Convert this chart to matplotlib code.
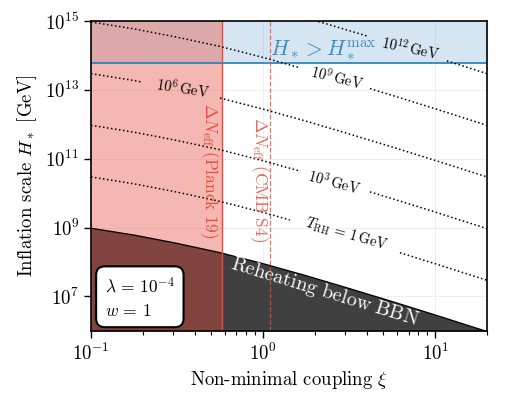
import numpy as np
import matplotlib
matplotlib.use("Agg")
import matplotlib.pyplot as plt

plt.rcParams['font.family'] = 'serif'
plt.rcParams['font.serif'] = ['cmr10', 'DejaVu Serif']
plt.rcParams['mathtext.fontset'] = 'cm'
plt.rcParams['axes.formatter.use_mathtext'] = True

# --- data ---
xi_pts = [0.1, 0.178, 0.316, 0.562, 1.0, 1.78, 3.16, 5.62, 10.0, 20.0]
# log10 H of the BBN reheating boundary at xi_pts
bbn_logH = [8.98, 8.78, 8.54, 8.27, 7.95, 7.60, 7.23, 6.85, 6.46, 5.98]
# constant-T_RH curves: decades above the BBN boundary
trh_names = ['1', '3', '6', '9', '12']
trh_offsets = [1.49, 2.99, 4.49, 5.99, 7.49]
# xi range where each dotted curve is interrupted by its label
trh_gaps = [(1.43, 6.24), (1.60, 4.18), (0.195, 0.562), (1.60, 4.18), (4.02, 11.7)]

xi_planck = 0.577
xi_cmbs4 = 1.10
H_max = 6.2e13
xlim = (0.1, 20)
ylim = (1e6, 1e15)

red = '#e74c3c'
blue = '#2e86c1'

fig = plt.figure(figsize=(5.11, 4.03), dpi=100)
ax = fig.add_axes([0.178, 0.179, 0.775, 0.769])
ax.set_xscale('log')
ax.set_yscale('log')

xi = np.array(xi_pts)
logH_bbn = np.array(bbn_logH)
lx = np.log10(xi)

# reheating below BBN
ax.fill_between(xi, ylim[0], 10**logH_bbn, color='#404040', lw=0, zorder=2)
ax.plot(xi, 10**logH_bbn, color='k', lw=1.0, zorder=3)

# H above H_max
ax.fill_between(xlim, H_max, ylim[1], color=blue, alpha=0.2, lw=0, zorder=2)
ax.axhline(H_max, color=blue, lw=1.3, zorder=3)

# Planck Delta N_eff
ax.axvspan(xlim[0], xi_planck, color=red, alpha=0.4, lw=0, zorder=2.5)
ax.axvline(xi_planck, color=red, lw=1.0, zorder=3)
# CMB S4
ax.axvline(xi_cmbs4, color=red, lw=0.9, ls='--', alpha=0.8, zorder=3)

# dotted T_RH curves with gaps for labels
for off, (g0, g1) in zip(trh_offsets, trh_gaps):
    ly = logH_bbn + off
    a0, a1 = np.log10(g0), np.log10(g1)
    y0, y1 = np.interp(a0, lx, ly), np.interp(a1, lx, ly)
    left = lx < a0
    right = lx > a1
    ax.plot(10**np.r_[lx[left], a0], 10**np.r_[ly[left], y0], ls=':', color='k', lw=1.1, zorder=4)
    ax.plot(10**np.r_[a1, lx[right]], 10**np.r_[y1, ly[right]], ls=':', color='k', lw=1.1, zorder=4)

# labels
kw = dict(transform=ax.transAxes, ha='center', va='center', zorder=5)
ax.text(0.806, 0.913, r'$10^{12}\,\mathrm{GeV}$', fontsize=10.5, rotation=-12, **kw)
ax.text(0.621, 0.816, r'$10^{9}\,\mathrm{GeV}$', fontsize=10.5, rotation=-14, **kw)
ax.text(0.232, 0.784, r'$10^{6}\,\mathrm{GeV}$', fontsize=10.5, rotation=-9, **kw)
ax.text(0.614, 0.481, r'$10^{3}\,\mathrm{GeV}$', fontsize=10.5, rotation=-15, **kw)
ax.text(0.644, 0.313, r'$T_{\rm RH}\,=\,1\,\mathrm{GeV}$', fontsize=10.5, rotation=-16, **kw)
ax.text(0.586, 0.906, r'$H_* > H_*^{\rm max}$', fontsize=15.5, color='#3a8fc4', **kw)
ax.text(0.591, 0.126, r'$\mathrm{Reheating\ below\ BBN}$', fontsize=14.5, color='white', rotation=-17, **kw)
ax.text(0.298, 0.516, r'$\Delta N_{\rm eff}\ \mathrm{(Planck\ 19)}$', fontsize=12.5, color=red, rotation=-90, **kw)
ax.text(0.424, 0.487, r'$\Delta N_{\rm eff}\ \mathrm{(CMB\ S4)}$', fontsize=12.5, color=red, alpha=0.85, rotation=-90, **kw)

ax.text(0.035, 0.11, '$\\lambda\\, =\\, 10^{-4}$\n$w\\, =\\, 1$', transform=ax.transAxes, fontsize=12.5,
        ha='left', va='center', linespacing=1.6, zorder=6,
        bbox=dict(boxstyle='round,pad=0.5', fc='white', ec='k', lw=1.5))

ax.set_xlim(*xlim)
ax.set_ylim(*ylim)
ax.set_yticks([1e7, 1e9, 1e11, 1e13, 1e15])
ax.yaxis.set_minor_locator(matplotlib.ticker.NullLocator())
ax.grid(which='major', color='0.92', lw=0.6, zorder=0)
ax.set_axisbelow(True)
for s in ax.spines.values():
    s.set_linewidth(1.2)
    s.set_zorder(7)
ax.tick_params(labelsize=13.5, width=1.0, length=5)
ax.tick_params(which='minor', length=3, width=0.8)

ax.set_xlabel(r'Non-minimal coupling $\xi$', fontsize=13.5)
ax.set_ylabel(r'Inflation scale $H_*$ [GeV]', fontsize=13.5)

fig.savefig('out.png', dpi=100)
